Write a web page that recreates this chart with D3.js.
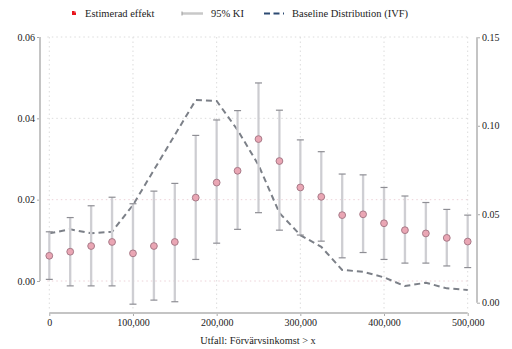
<!DOCTYPE html>
<html><head><meta charset="utf-8">
<script src="https://cdn.jsdelivr.net/npm/d3@7"></script>
<style>
body{margin:0;background:#fff;}
svg text{font-family:"Liberation Serif","DejaVu Serif",Times,serif !important;}
</style></head>
<body>
<svg id="c" width="512" height="349"></svg>
<script>
const xs = [0,25000,50000,75000,100000,125000,150000,175000,200000,225000,250000,275000,300000,325000,350000,375000,400000,425000,450000,475000,500000];
const est = [0.0062,0.0072,0.0086,0.0096,0.0068,0.0086,0.0096,0.0205,0.0242,0.0271,0.0349,0.0295,0.0230,0.0207,0.0162,0.0164,0.0142,0.0125,0.0117,0.0106,0.0097];
const ciHi = [0.0121,0.0156,0.0185,0.0206,0.0190,0.0221,0.0240,0.0358,0.0396,0.0419,0.0487,0.0420,0.0347,0.0318,0.0263,0.0261,0.0230,0.0209,0.0193,0.0176,0.0162];
const ciLo = [0.0004,-0.0012,-0.0012,-0.0012,-0.0057,-0.0047,-0.0051,0.0053,0.0093,0.0127,0.0168,0.0125,0.0113,0.0098,0.0057,0.0070,0.0053,0.0044,0.0044,0.0037,0.0033];
const base = [0.0392,0.0415,0.0392,0.0401,0.0552,0.0750,0.0948,0.1145,0.1140,0.0976,0.0778,0.0507,0.0382,0.0316,0.0185,0.0175,0.0143,0.0094,0.0113,0.0081,0.0072];
const xTicks = [0,100000,200000,300000,400000,500000];
const yLTicks = [0,0.02,0.04,0.06];
const yRTicks = [0,0.05,0.10,0.15];
const legendLabels = ["Estimerad effekt","95% KI","Baseline Distribution (IVF)"];
const xTitle = "Utfall: Förvärvsinkomst > x";

const svg = d3.select("#c");
const x = d3.scaleLinear().domain([0,500000]).range([49.3,467.7]);
const yL = d3.scaleLinear().domain([0,0.06]).range([281,37]);
const yR = d3.scaleLinear().domain([0,0.15]).range([302.7,37.3]);

// grid
const g = svg.append("g");
g.selectAll(".vg").data(xTicks).join("line")
  .attr("x1",d=>x(d)).attr("x2",d=>x(d)).attr("y1",37).attr("y2",310)
  .attr("stroke","#dcdcdc").attr("stroke-width",1).attr("stroke-dasharray","1.5,3");
g.selectAll(".hg").data(yLTicks).join("line")
  .attr("x1",x(0)-2).attr("x2",x(500000)+2).attr("y1",d=>yL(d)).attr("y2",d=>yL(d))
  .attr("stroke",d=>d<0.03?"#ecd2d8":"#dcdcdc").attr("stroke-width",1).attr("stroke-dasharray","1.5,3");

// baseline dashed line
svg.append("path").datum(xs.map((d,i)=>[d,base[i]]))
  .attr("d",d3.line().x(d=>x(d[0])).y(d=>yR(d[1])))
  .attr("fill","none").attr("stroke","#7c8088").attr("stroke-width",2).attr("stroke-dasharray","6,4");

// CI
const ci = svg.append("g");
ci.selectAll(".ci").data(xs).join("line")
  .attr("x1",d=>x(d)).attr("x2",d=>x(d))
  .attr("y1",(d,i)=>yL(ciLo[i])).attr("y2",(d,i)=>yL(ciHi[i]))
  .attr("stroke","#d3d3d7").attr("stroke-width",2.4);
ci.selectAll(".cip").data(xs).join("line")
  .attr("x1",d=>x(d)).attr("x2",d=>x(d))
  .attr("y1",(d,i)=>yL(ciLo[i])).attr("y2",(d,i)=>yL(ciHi[i]))
  .attr("stroke","#b8b8be").attr("stroke-width",0.5).attr("opacity",0.5);
[ciLo,ciHi].forEach(arr=>{
  ci.selectAll(null).data(xs).join("line")
    .attr("x1",d=>x(d)-3.5).attr("x2",d=>x(d)+3.5)
    .attr("y1",(d,i)=>yL(arr[i])).attr("y2",(d,i)=>yL(arr[i]))
    .attr("stroke","#8e8e94").attr("stroke-width",1.2);
});

// points
svg.selectAll(".pt").data(xs).join("circle")
  .attr("cx",d=>x(d)).attr("cy",(d,i)=>yL(est[i])).attr("r",3.4)
  .attr("fill","#eaa6b4").attr("stroke","#a87a88").attr("stroke-width",1);

// axes
function styleAxis(sel){
  sel.attr("font-family",null);
  sel.select(".domain").remove();
  sel.selectAll(".tick line").attr("stroke","#aaaaaa").attr("stroke-width",1);
  sel.selectAll(".tick text").attr("fill","#222").style("font-size","10px");
}
const axL = svg.append("g").attr("transform","translate(40,0)")
  .call(d3.axisLeft(yL).tickValues(yLTicks).tickFormat(d3.format(".2f")).tickSize(3).tickPadding(2));
styleAxis(axL);
svg.append("line").attr("x1",40).attr("x2",40).attr("y1",yL(0.06)).attr("y2",yL(0))
  .attr("stroke","#c4c4c4").attr("stroke-width",2);

const axR = svg.append("g").attr("transform","translate(477,0)")
  .call(d3.axisRight(yR).tickValues(yRTicks).tickFormat(d3.format(".2f")).tickSize(3).tickPadding(2));
styleAxis(axR);
svg.append("line").attr("x1",477).attr("x2",477).attr("y1",yR(0.15)).attr("y2",yR(0))
  .attr("stroke","#c4c4c4").attr("stroke-width",2);

const axX = svg.append("g").attr("transform","translate(0,313)")
  .call(d3.axisBottom(x).tickValues(xTicks).tickFormat(d3.format(",")).tickSize(3).tickPadding(3));
styleAxis(axX);
svg.append("line").attr("x1",x(0)).attr("x2",x(500000)).attr("y1",313).attr("y2",313)
  .attr("stroke","#c4c4c4").attr("stroke-width",2);

svg.append("text").attr("x",258).attr("y",344).attr("text-anchor","middle")
  .style("font-size","10.3px").attr("fill","#222").text(xTitle);

// legend
const lg = svg.append("g");
lg.append("rect").attr("x",72).attr("y",11).attr("width",4).attr("height",4).attr("fill","#e8141c");
lg.append("rect").attr("x",74.5).attr("y",11).attr("width",1.5).attr("height",1.5).attr("fill","#f7b0b0");
lg.append("text").attr("x",85).attr("y",17).style("font-size","10.5px").attr("fill","#222").text(legendLabels[0]);
lg.append("line").attr("x1",182).attr("x2",203).attr("y1",13.5).attr("y2",13.5).attr("stroke","#c8c8c8").attr("stroke-width",2.5);
lg.append("line").attr("x1",182).attr("x2",182).attr("y1",11.5).attr("y2",15.5).attr("stroke","#999").attr("stroke-width",1);
lg.append("text").attr("x",211).attr("y",17).style("font-size","10.5px").attr("fill","#222").text(legendLabels[1]);
lg.append("line").attr("x1",264).attr("x2",284).attr("y1",13.5).attr("y2",13.5).attr("stroke","#2c4a72").attr("stroke-width",2).attr("stroke-dasharray","6,3.5");
lg.append("text").attr("x",292).attr("y",17).style("font-size","10.5px").attr("fill","#222").text(legendLabels[2]);
</script>
</body></html>
